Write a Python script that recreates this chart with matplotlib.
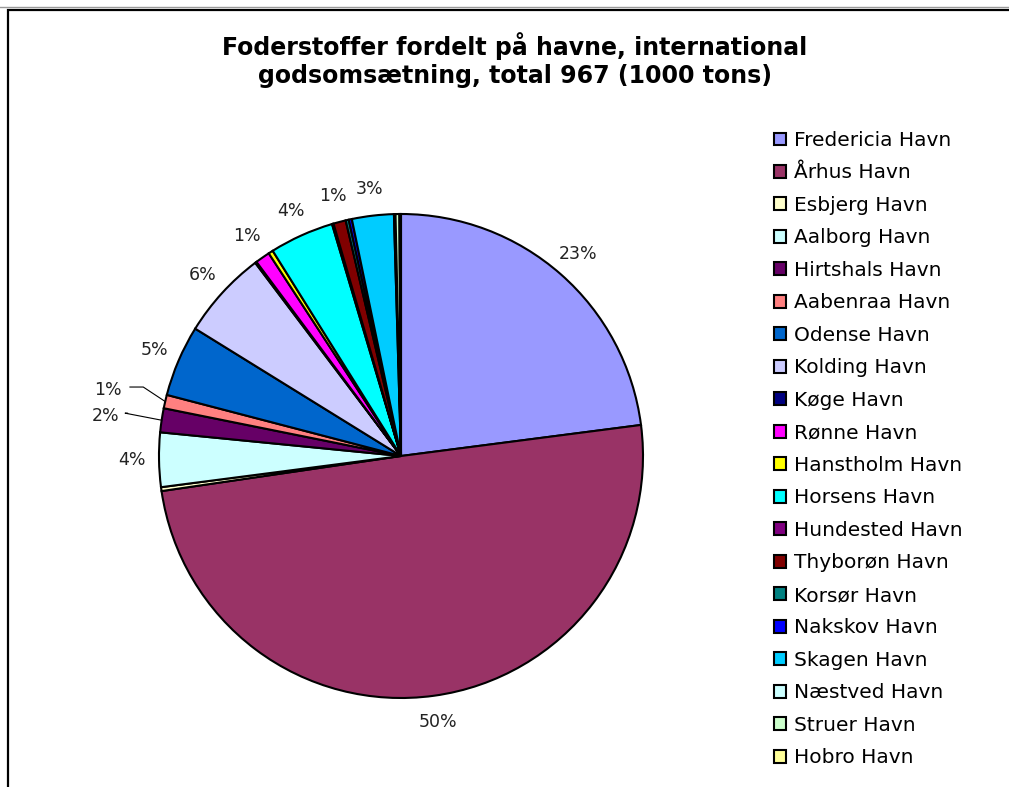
import numpy as np
import matplotlib
matplotlib.use("Agg")
import matplotlib.pyplot as plt
from matplotlib.patches import Rectangle
from matplotlib.lines import Line2D

# 1000 tons per port (total 967)
ports = ["Fredericia Havn", "Århus Havn", "Esbjerg Havn", "Aalborg Havn", "Hirtshals Havn",
         "Aabenraa Havn", "Odense Havn", "Kolding Havn", "Køge Havn", "Rønne Havn",
         "Hanstholm Havn", "Horsens Havn", "Hundested Havn", "Thyborøn Havn", "Korsør Havn",
         "Nakskov Havn", "Skagen Havn", "Næstved Havn", "Struer Havn", "Hobro Havn"]
tons = [222, 481, 2.5, 35, 15.5,
        8.7, 46, 57, 1, 9.5,
        3, 41.5, 1, 8, 2,
        2, 27, 1, 2.5, 1]
colors = ["#9999FF", "#993366", "#FFFFCC", "#CCFFFF", "#660066",
          "#FF8080", "#0066CC", "#CCCCFF", "#000080", "#FF00FF",
          "#FFFF00", "#00FFFF", "#800080", "#800000", "#008080",
          "#0000FF", "#00CCFF", "#CCFFFF", "#CCFFCC", "#FFFF99"]
title = "Foderstoffer fordelt på havne, international\ngodsomsætning, total 967 (1000 tons)"

W, H = 1009, 787
fig = plt.figure(figsize=(W / 100, H / 100), dpi=100)

# pie axes: centre (401, 456) px, radius 242 px
R, cx, cy, s = 242, 401, 456, 1.3
side = 2 * s * R
ax = fig.add_axes([(cx - side / 2) / W, (H - cy - side / 2) / H, side / W, side / H])

wedges, _ = ax.pie(tons, colors=colors, startangle=90, counterclock=False, radius=1,
                   wedgeprops=dict(edgecolor="black", linewidth=1.5))
# pie() resets the limits, so set them afterwards
ax.set_xlim(-s, s)
ax.set_ylim(-s, s)
ax.set_aspect("equal")
ax.axis("off")

total = sum(tons)
# small slices on the left get leader lines
leader = {"Aabenraa Havn": (-1.21, 0.273, -1.065), "Hirtshals Havn": (-1.22, 0.165, -1.14)}
for w, name, v in zip(wedges, ports, tons):
    pct = round(100 * v / total)
    if pct < 1:
        continue
    mid = np.deg2rad((w.theta1 + w.theta2) / 2)
    ex, ey = np.cos(mid), np.sin(mid)
    if name in leader:
        tx, ty, elbow = leader[name]
        ax.text(tx, ty, f"{pct}%", ha="center", va="center", fontsize=12.5, color="#222222")
        ax.add_line(Line2D([tx + 0.09, elbow, ex], [ty + 0.012, ty + 0.012, ey],
                           color="black", lw=0.8))
    else:
        r = 1.11
        ax.text(r * ex, r * ey, f"{pct}%", ha="center", va="center", fontsize=12.5, color="#222222")

fig.text(515 / W, 1 - 60 / H, title, ha="center", va="center", fontsize=17,
         fontweight="bold", linespacing=1.25)

leg = fig.legend(wedges, ports, loc="upper left", bbox_to_anchor=(774 / W, 1 - 131 / H),
                 frameon=False, fontsize=14.5, handlelength=0.6, handleheight=0.6,
                 handletextpad=0.4, labelspacing=0.67, borderpad=0, borderaxespad=0)

# chart frame
fig.patches.append(Rectangle((7.5 / W, -0.1), 1.2, 1.1 - 9.5 / H, transform=fig.transFigure,
                             fill=False, edgecolor="black", lw=1.6))
fig.add_artist(Line2D([0, 1], [1 - 7 / H, 1 - 7 / H], transform=fig.transFigure,
                      color="#999999", lw=1))

fig.savefig("out.png", dpi=100, facecolor="white")
